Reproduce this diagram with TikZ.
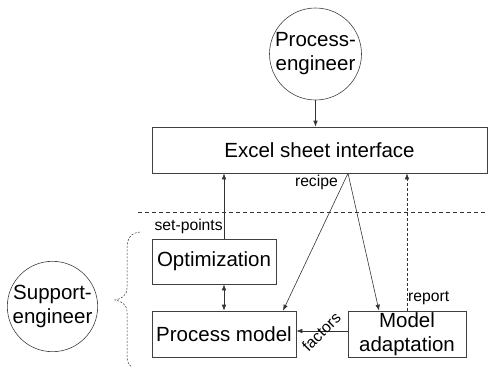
\documentclass[tikz,border=0pt]{standalone}
\usepackage{fontspec}
\setmainfont{Liberation Sans}
\usetikzlibrary{arrows.meta}

\tikzset{
  blk/.style={draw=black!75, line width=0.6pt, rectangle, inner sep=0pt, align=center,
    font=\fontsize{20.5}{24}\selectfont},
  actor/.style={draw=black!75, line width=0.6pt, circle, inner sep=0pt, align=center,
    font=\fontsize{20.5}{24}\selectfont},
  lbl/.style={font=\fontsize{15.7}{18}\selectfont, inner sep=1pt},
  conn/.style={draw=black!80, line width=0.6pt, -{Latex[length=6pt,width=4.5pt]}},
}

\begin{document}
\begin{tikzpicture}[x=1pt,y=-1pt]
    \useasboundingbox (0,0) rectangle (488,367);
    % actors
    \node[actor, minimum size=92pt] (pe) at (315.5,54) {Process-\\engineer};
    \node[actor, minimum size=88pt] (se) at (52.5,306.5) {Support-\\engineer};
    % blocks
    \node[blk, minimum width=335pt, minimum height=46pt] (excel) at (319.5,150) {Excel sheet interface};
    \node[blk, minimum width=124pt, minimum height=45pt] (opt) at (214,261.5) {Optimization};
    \node[blk, minimum width=144pt, minimum height=46pt] (pm) at (224,334) {Process model};
    \node[blk, minimum width=118pt, minimum height=46pt] (ma) at (407,334) {Model\\adaptation};
    % separator
    \draw[black!80, line width=0.6pt, dash pattern=on 4pt off 3pt] (138,212) -- (488,212);
    % connectors
    \draw[conn] (pe) -- (pe |- excel.north);
    \draw[conn] ([xshift=10pt]opt.north) -- ([xshift=10pt]opt.north |- excel.south)
      node[lbl, anchor=south east, pos=0, yshift=4pt] (setp) {set-points};
    \draw[conn, {Latex[length=6pt,width=4.5pt]}-{Latex[length=6pt,width=4.5pt]}] (pm.north |- opt.south) -- (pm.north);
    \coordinate (apex) at ([xshift=28.5pt]excel.south);
    \node[lbl, anchor=north east] (rcp) at ([xshift=-9pt,yshift=-1pt]apex) {recipe};
    \draw[conn] (apex) -- ([xshift=59pt]pm.north);
    \draw[conn] (apex) -- ([xshift=-28pt]ma.north);
    \draw[conn, dash pattern=on 3pt off 2pt] (ma.north) -- (ma.north |- excel.south);
    \node[lbl, anchor=south west, yshift=5pt] (rep) at (ma.north) {report};
    \draw[conn] ([yshift=3pt]ma.west) -- ([yshift=3pt]pm.east)
      node[lbl, midway, rotate=45, inner sep=0pt, xshift=-1pt] (fac) {factors};
    % brace
    \draw[black!80, line width=0.5pt, dash pattern=on 2pt off 1.5pt]
      (140,232) .. controls (130,233) and (127,239) .. (127,249) -- (127,288)
      .. controls (127,296) and (121,299) .. (115,300)
      .. controls (121,301) and (127,304) .. (127,312) -- (127,356)
      .. controls (127,362) and (129,365) .. (132,367);
\end{tikzpicture}
\end{document}
